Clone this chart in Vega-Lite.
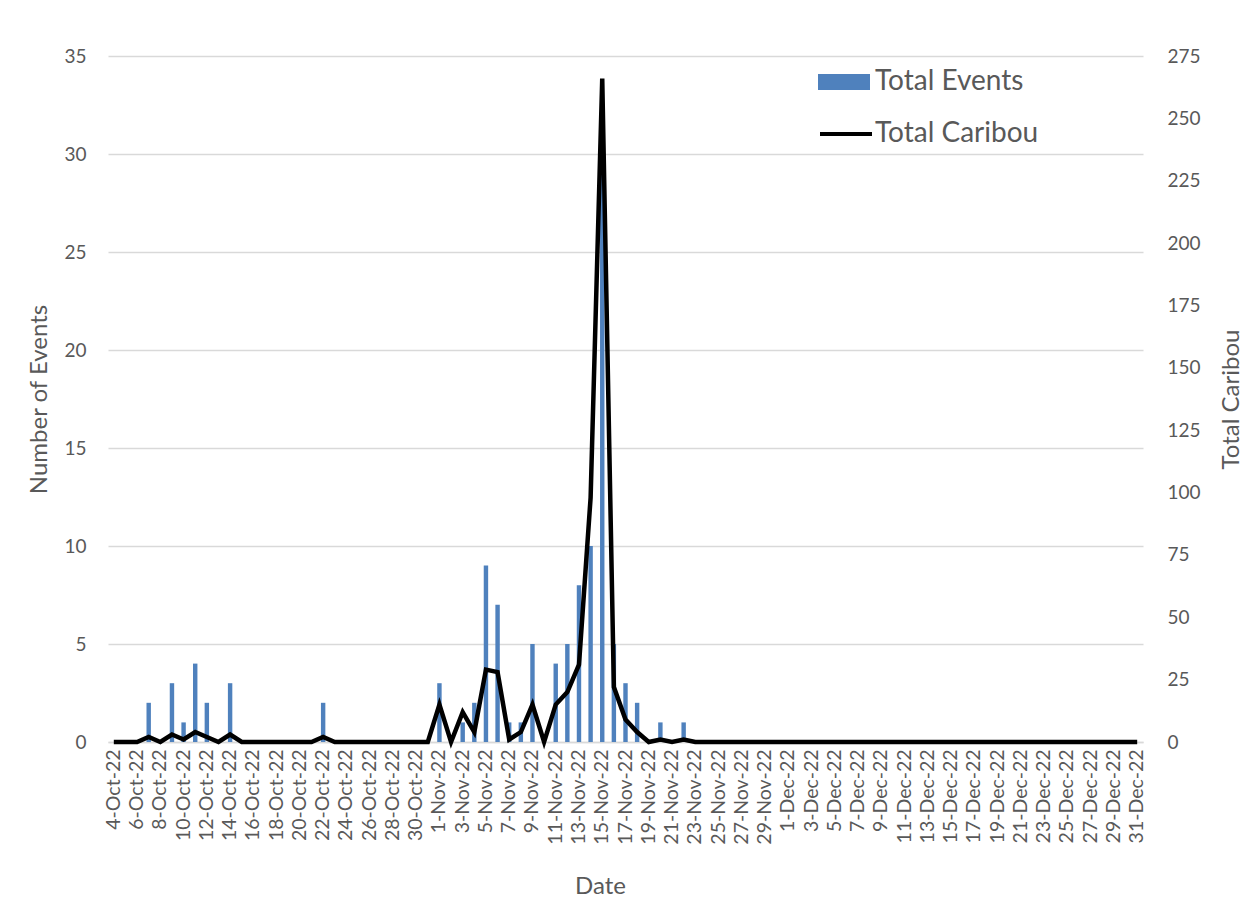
{
  "$schema": "https://vega.github.io/schema/vega-lite/v6.json",
  "autosize": {"type": "none"},
  "width": 1035,
  "height": 686,
  "padding": {"left": 108, "top": 56, "right": 110, "bottom": 165},
  "background": "white",
  "config": {
    "view": {"stroke": null},
    "font": "Lato",
    "axis": {"labelFont": "Lato", "titleFont": "Lato", "labelColor": "#595959", "titleColor": "#595959", "titleFontWeight": "normal"},
    "legend": {"labelFont": "Lato", "labelColor": "#595959", "labelLimit": 0}
  },
  "data": {
    "values": [
      {"date": "4-Oct-22", "events": 0, "caribou": 0},
      {"date": "5-Oct-22", "events": 0, "caribou": 0},
      {"date": "6-Oct-22", "events": 0, "caribou": 0},
      {"date": "7-Oct-22", "events": 2, "caribou": 2},
      {"date": "8-Oct-22", "events": 0, "caribou": 0},
      {"date": "9-Oct-22", "events": 3, "caribou": 3},
      {"date": "10-Oct-22", "events": 1, "caribou": 1},
      {"date": "11-Oct-22", "events": 4, "caribou": 4},
      {"date": "12-Oct-22", "events": 2, "caribou": 2},
      {"date": "13-Oct-22", "events": 0, "caribou": 0},
      {"date": "14-Oct-22", "events": 3, "caribou": 3},
      {"date": "15-Oct-22", "events": 0, "caribou": 0},
      {"date": "16-Oct-22", "events": 0, "caribou": 0},
      {"date": "17-Oct-22", "events": 0, "caribou": 0},
      {"date": "18-Oct-22", "events": 0, "caribou": 0},
      {"date": "19-Oct-22", "events": 0, "caribou": 0},
      {"date": "20-Oct-22", "events": 0, "caribou": 0},
      {"date": "21-Oct-22", "events": 0, "caribou": 0},
      {"date": "22-Oct-22", "events": 2, "caribou": 2},
      {"date": "23-Oct-22", "events": 0, "caribou": 0},
      {"date": "24-Oct-22", "events": 0, "caribou": 0},
      {"date": "25-Oct-22", "events": 0, "caribou": 0},
      {"date": "26-Oct-22", "events": 0, "caribou": 0},
      {"date": "27-Oct-22", "events": 0, "caribou": 0},
      {"date": "28-Oct-22", "events": 0, "caribou": 0},
      {"date": "29-Oct-22", "events": 0, "caribou": 0},
      {"date": "30-Oct-22", "events": 0, "caribou": 0},
      {"date": "31-Oct-22", "events": 0, "caribou": 0},
      {"date": "1-Nov-22", "events": 3, "caribou": 15},
      {"date": "2-Nov-22", "events": 0, "caribou": 0},
      {"date": "3-Nov-22", "events": 1, "caribou": 12},
      {"date": "4-Nov-22", "events": 2, "caribou": 4},
      {"date": "5-Nov-22", "events": 9, "caribou": 29},
      {"date": "6-Nov-22", "events": 7, "caribou": 28},
      {"date": "7-Nov-22", "events": 1, "caribou": 1},
      {"date": "8-Nov-22", "events": 1, "caribou": 4},
      {"date": "9-Nov-22", "events": 5, "caribou": 15},
      {"date": "10-Nov-22", "events": 0, "caribou": 0},
      {"date": "11-Nov-22", "events": 4, "caribou": 15},
      {"date": "12-Nov-22", "events": 5, "caribou": 20},
      {"date": "13-Nov-22", "events": 8, "caribou": 31},
      {"date": "14-Nov-22", "events": 10, "caribou": 98},
      {"date": "15-Nov-22", "events": 30, "caribou": 266},
      {"date": "16-Nov-22", "events": 5, "caribou": 22},
      {"date": "17-Nov-22", "events": 3, "caribou": 9},
      {"date": "18-Nov-22", "events": 2, "caribou": 4},
      {"date": "19-Nov-22", "events": 0, "caribou": 0},
      {"date": "20-Nov-22", "events": 1, "caribou": 1},
      {"date": "21-Nov-22", "events": 0, "caribou": 0},
      {"date": "22-Nov-22", "events": 1, "caribou": 1},
      {"date": "23-Nov-22", "events": 0, "caribou": 0},
      {"date": "24-Nov-22", "events": 0, "caribou": 0},
      {"date": "25-Nov-22", "events": 0, "caribou": 0},
      {"date": "26-Nov-22", "events": 0, "caribou": 0},
      {"date": "27-Nov-22", "events": 0, "caribou": 0},
      {"date": "28-Nov-22", "events": 0, "caribou": 0},
      {"date": "29-Nov-22", "events": 0, "caribou": 0},
      {"date": "30-Nov-22", "events": 0, "caribou": 0},
      {"date": "1-Dec-22", "events": 0, "caribou": 0},
      {"date": "2-Dec-22", "events": 0, "caribou": 0},
      {"date": "3-Dec-22", "events": 0, "caribou": 0},
      {"date": "4-Dec-22", "events": 0, "caribou": 0},
      {"date": "5-Dec-22", "events": 0, "caribou": 0},
      {"date": "6-Dec-22", "events": 0, "caribou": 0},
      {"date": "7-Dec-22", "events": 0, "caribou": 0},
      {"date": "8-Dec-22", "events": 0, "caribou": 0},
      {"date": "9-Dec-22", "events": 0, "caribou": 0},
      {"date": "10-Dec-22", "events": 0, "caribou": 0},
      {"date": "11-Dec-22", "events": 0, "caribou": 0},
      {"date": "12-Dec-22", "events": 0, "caribou": 0},
      {"date": "13-Dec-22", "events": 0, "caribou": 0},
      {"date": "14-Dec-22", "events": 0, "caribou": 0},
      {"date": "15-Dec-22", "events": 0, "caribou": 0},
      {"date": "16-Dec-22", "events": 0, "caribou": 0},
      {"date": "17-Dec-22", "events": 0, "caribou": 0},
      {"date": "18-Dec-22", "events": 0, "caribou": 0},
      {"date": "19-Dec-22", "events": 0, "caribou": 0},
      {"date": "20-Dec-22", "events": 0, "caribou": 0},
      {"date": "21-Dec-22", "events": 0, "caribou": 0},
      {"date": "22-Dec-22", "events": 0, "caribou": 0},
      {"date": "23-Dec-22", "events": 0, "caribou": 0},
      {"date": "24-Dec-22", "events": 0, "caribou": 0},
      {"date": "25-Dec-22", "events": 0, "caribou": 0},
      {"date": "26-Dec-22", "events": 0, "caribou": 0},
      {"date": "27-Dec-22", "events": 0, "caribou": 0},
      {"date": "28-Dec-22", "events": 0, "caribou": 0},
      {"date": "29-Dec-22", "events": 0, "caribou": 0},
      {"date": "30-Dec-22", "events": 0, "caribou": 0},
      {"date": "31-Dec-22", "events": 0, "caribou": 0}
    ]
  },
  "encoding": {
    "x": {
      "field": "date",
      "type": "ordinal",
      "sort": null,
      "scale": {"paddingInner": 0, "paddingOuter": 0},
      "axis": {
        "values": ["4-Oct-22","6-Oct-22","8-Oct-22","10-Oct-22","12-Oct-22","14-Oct-22","16-Oct-22","18-Oct-22","20-Oct-22","22-Oct-22","24-Oct-22","26-Oct-22","28-Oct-22","30-Oct-22","1-Nov-22","3-Nov-22","5-Nov-22","7-Nov-22","9-Nov-22","11-Nov-22","13-Nov-22","15-Nov-22","17-Nov-22","19-Nov-22","21-Nov-22","23-Nov-22","25-Nov-22","27-Nov-22","29-Nov-22","1-Dec-22","3-Dec-22","5-Dec-22","7-Dec-22","9-Dec-22","11-Dec-22","13-Dec-22","15-Dec-22","17-Dec-22","19-Dec-22","21-Dec-22","23-Dec-22","25-Dec-22","27-Dec-22","29-Dec-22","31-Dec-22"],
        "labelAngle": -90,
        "labelFontSize": 19.5,
        "labelPadding": 7,
        "ticks": false,
        "domainColor": "#D9D9D9",
        "domainWidth": 1.3,
        "title": "Date",
        "titleFontSize": 24,
        "titleBaseline": "alphabetic",
        "titleX": 492,
        "titleY": 151
      }
    }
  },
  "layer": [
    {
      "mark": {"type": "bar", "width": {"band": 0.38}, "color": "#4F81BD"},
      "encoding": {
        "y": {
          "field": "events",
          "type": "quantitative",
          "scale": {"domain": [0, 35], "nice": false},
          "axis": {
            "orient": "left",
            "values": [0, 5, 10, 15, 20, 25, 30, 35],
            "grid": true,
            "gridColor": "#D9D9D9",
            "gridWidth": 1.3,
            "domain": false,
            "ticks": false,
            "labelFontSize": 19,
            "labelPadding": 22,
            "title": "Number of Events",
            "titleFontSize": 24,
            "titleAngle": -90,
            "titleBaseline": "alphabetic",
            "titleX": -62,
            "titleY": 343
          }
        },
        "color": {
          "datum": "Total Events",
          "type": "nominal",
          "scale": {"range": ["#4F81BD"]},
          "legend": {
            "title": null,
            "orient": "none",
            "legendX": 710,
            "legendY": 0,
            "padding": 0,
            "symbolType": "M-1,-0.31H1V0.31H-1Z",
            "symbolSize": 2704,
            "symbolStrokeWidth": 0,
            "symbolOpacity": 1,
            "labelFontSize": 28,
            "labelOffset": 5
          }
        }
      }
    },
    {
      "mark": {"type": "line", "color": "black", "strokeWidth": 4.5},
      "encoding": {
        "y": {
          "field": "caribou",
          "type": "quantitative",
          "scale": {"domain": [0, 275], "nice": false},
          "axis": {
            "orient": "right",
            "values": [0, 25, 50, 75, 100, 125, 150, 175, 200, 225, 250, 275],
            "grid": false,
            "domain": false,
            "ticks": false,
            "labelFontSize": 19,
            "labelPadding": 24,
            "title": "Total Caribou",
            "titleFontSize": 24,
            "titleAngle": -90,
            "titleBaseline": "alphabetic",
            "titleX": 95,
            "titleY": 343
          }
        },
        "stroke": {
          "datum": "Total Caribou",
          "type": "nominal",
          "scale": {"range": ["#000000"]},
          "legend": {
            "title": null,
            "orient": "none",
            "legendX": 710,
            "legendY": 50,
            "padding": 0,
            "symbolType": "stroke",
            "symbolSize": 2704,
            "symbolStrokeWidth": 4,
            "symbolStrokeColor": "#000000",
            "labelFontSize": 28,
            "labelOffset": 1
          }
        }
      }
    }
  ],
  "resolve": {"scale": {"y": "independent"}}
}
